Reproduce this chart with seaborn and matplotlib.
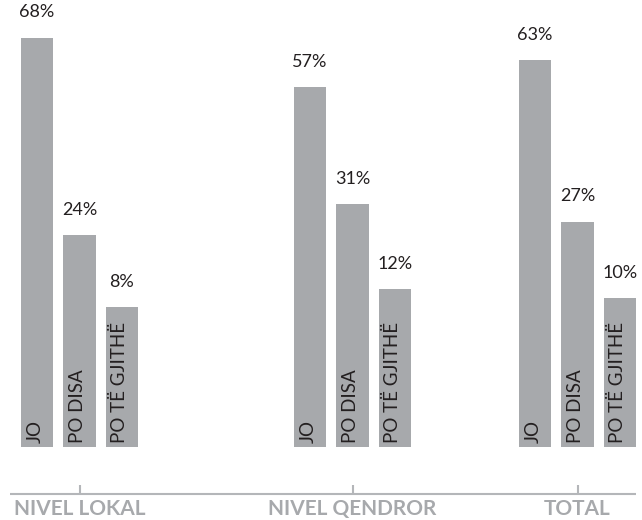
import matplotlib
matplotlib.use("Agg")
import matplotlib.pyplot as plt
from matplotlib import font_manager
import pandas as pd
import seaborn as sns

# Share of answers per level of government
GROUPS = ["NIVEL LOKAL", "NIVEL QENDROR", "TOTAL"]
ANSWERS = ["JO", "PO DISA", "PO TË GJITHË"]
NIVEL_LOKAL = [68, 24, 8]
NIVEL_QENDROR = [57, 31, 12]
TOTAL = [63, 27, 10]

# Layout
GROUP_X = [79.5, 352.5, 577.5]   # group centres on a pixel-like x scale
LABEL_BAND = 23.2                # depth of the name tab under each bar (in % units)
AXIS_Y = -33.6                   # baseline of the group axis
TICK_LEN = 2.0                   # tick height above the baseline (in % units)
NAME_Y = -38.3                   # baseline of the group names
AXIS_SPAN = (10, 636)
Y_LIMITS = (-39.4, 76.4)

BAR_GRAY = "#a7a9ac"
AXIS_GRAY = "#b4b6b9"
TEXT_DARK = "#231f20"

sns.set_style("white")
plt.rcParams["font.family"] = ["Lato", "DejaVu Sans"]

# bold face for the group names, taken straight from its file
BOLD_FONT = font_manager.FontProperties(
    fname=font_manager.findfont(
        font_manager.FontProperties(family="Lato", weight="bold")),
    size=15)

rows = []
for group, gx, values in zip(GROUPS, GROUP_X, [NIVEL_LOKAL, NIVEL_QENDROR, TOTAL]):
    for answer, value in zip(ANSWERS, values):
        rows.append({"group": group, "pos": gx, "answer": answer, "share": value})
df = pd.DataFrame(rows)

fig = plt.figure(figsize=(6.42, 5.2), dpi=100)
ax = fig.add_axes([0, 0, 1, 1])

palette = {a: BAR_GRAY for a in ANSWERS}
common = dict(
    x="pos", hue="answer", hue_order=ANSWERS, palette=palette,
    native_scale=True, dodge=True, width=127.5 / 225, gap=0.224,
    saturation=1, errorbar=None, legend=False, linewidth=0, ax=ax,
)

# value bars
sns.barplot(data=df, y="share", **common)
main_containers = list(ax.containers)

# tabs below the bars that carry the answer names
sns.barplot(data=df.assign(tab=-LABEL_BAND), y="tab", **common)

for side in ["top", "right", "left", "bottom"]:
    ax.spines[side].set_visible(False)
ax.set_xticks([])
ax.set_yticks([])
ax.set_xlabel("")
ax.set_ylabel("")
ax.set_xlim(0, 642)
ax.set_ylim(*Y_LIMITS)

# group axis: baseline, short upward ticks and bold grey names
ax.hlines(AXIS_Y, *AXIS_SPAN, color=AXIS_GRAY, linewidth=1.5)
ax.vlines(GROUP_X, AXIS_Y, AXIS_Y + TICK_LEN, color=AXIS_GRAY, linewidth=1.5)
for gx, name in zip(GROUP_X, GROUPS):
    ax.text(gx, NAME_Y, name, ha="center", va="baseline",
            fontproperties=BOLD_FONT, color=BAR_GRAY)

# value labels above the bars and answer names inside the tabs
for answer, container in zip(ANSWERS, main_containers):
    ax.bar_label(container, fmt="{:.0f}%", padding=12.5,
                 fontsize=13, color=TEXT_DARK)
    for patch in container.patches:
        xc = patch.get_x() + patch.get_width() / 2
        ax.annotate(answer, xy=(xc, -LABEL_BAND), xytext=(2.5, 3),
                    textcoords="offset points", rotation=90,
                    rotation_mode="anchor", ha="left", va="baseline",
                    fontsize=13.5, color=TEXT_DARK)

fig.savefig("out.png", dpi=100)
